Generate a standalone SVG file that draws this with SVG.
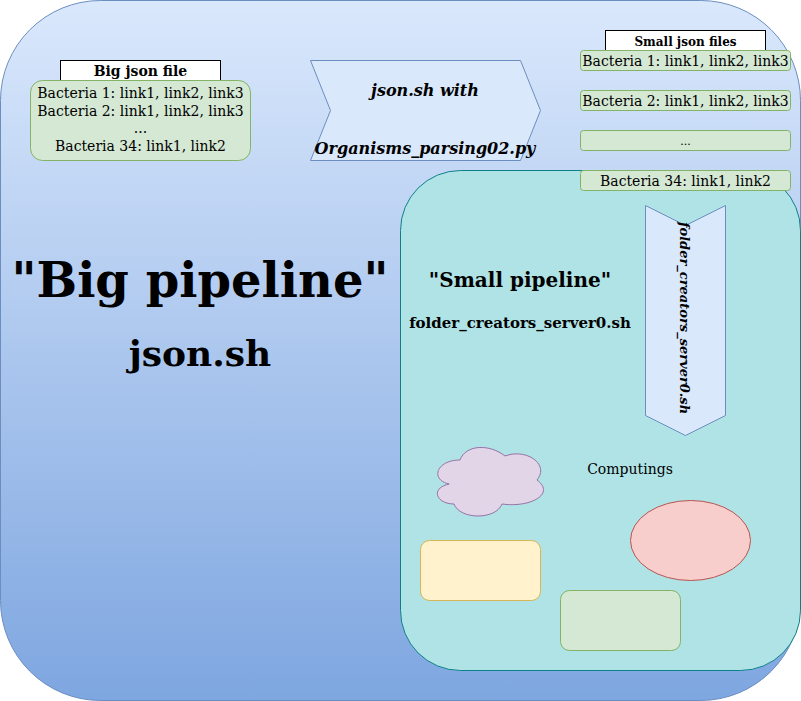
<svg xmlns="http://www.w3.org/2000/svg" width="801" height="701" viewBox="0 0 801 701">
<defs>
<linearGradient id="bg" x1="0" y1="0" x2="0" y2="1">
<stop offset="0" stop-color="#dae8fc"/>
<stop offset="1" stop-color="#7ea6e0"/>
</linearGradient>
<style>
text{font-family:"DejaVu Serif","Liberation Serif",serif;fill:#000;text-anchor:middle}
.green{fill:#d5e8d4;stroke:#82b366;stroke-width:1}
.label{fill:#fff;stroke:#000;stroke-width:1}
.blue{fill:#dae8fc;stroke:#6c8ebf;stroke-width:1}
.t12{font-size:14px}
.b{font-weight:bold}
.bi{font-weight:bold;font-style:italic}
</style>
</defs>
<g id="big-pipeline">
<rect x="0.5" y="0.5" width="800" height="700" rx="100" ry="100" fill="url(#bg)" stroke="#6c8ebf"/>
<text x="200" y="297" class="b" font-size="48">"Big pipeline"</text>
<text x="200" y="366" class="b" font-size="36">json.sh</text>
</g>
<g id="small-pipeline">
<rect x="400.5" y="170.5" width="400" height="500" rx="60" ry="60" fill="#b0e3e6" stroke="#0e8088"/>
<text x="520" y="287" class="b" font-size="20">"Small pipeline"</text>
<text x="520" y="328" class="b" font-size="15">folder_creators_server0.sh</text>
</g>
<g id="big-json">
<rect x="60.5" y="60.5" width="160" height="20" class="label"/>
<text x="140.5" y="76" class="b" font-size="14">Big json file</text>
<rect x="30.5" y="80.5" width="220" height="80" rx="12" ry="12" class="green"/>
<text x="140.5" y="98" class="t12">Bacteria 1: link1, link2, link3</text>
<text x="140.5" y="115.5" class="t12">Bacteria 2: link1, link2, link3</text>
<text x="140.5" y="133" class="t12">...</text>
<text x="140.5" y="150.5" class="t12">Bacteria 34: link1, link2</text>
</g>
<g id="json-step">
<polygon points="310.5,60.5 520.5,60.5 540.5,110.5 520.5,160.5 310.5,160.5 330.5,110.5" class="blue"/>
<text x="425" y="96" class="bi" font-size="16">json.sh with</text>
<text x="425" y="154" class="bi" font-size="16">Organisms_parsing02.py</text>
</g>
<g id="small-json">
<rect x="605.5" y="30.5" width="160" height="20" class="label"/>
<text x="685.5" y="45.5" class="b" font-size="12">Small json files</text>
<rect x="580.5" y="50.5" width="210" height="20" rx="3" ry="3" class="green"/>
<text x="685.5" y="65.5" class="t12">Bacteria 1: link1, link2, link3</text>
<rect x="580.5" y="90.5" width="210" height="20" rx="3" ry="3" class="green"/>
<text x="685.5" y="105.5" class="t12">Bacteria 2: link1, link2, link3</text>
<rect x="580.5" y="130.5" width="210" height="20" rx="3" ry="3" class="green"/>
<text x="685.5" y="145" font-size="11">...</text>
<rect x="580.5" y="170.5" width="210" height="20" rx="3" ry="3" class="green"/>
<text x="685.5" y="185.5" class="t12">Bacteria 34: link1, link2</text>
</g>
<g id="folder-step">
<polygon points="645.5,205.5 685.5,225.5 725.5,205.5 725.5,415.5 685.5,435.5 645.5,415.5" class="blue"/>
<text x="0" y="0" class="bi" font-size="13" transform="translate(680,318) rotate(90)">folder_creators_server0.sh</text>
</g>
<g id="computings">
<text x="630" y="474" font-size="14">Computings</text>
<path d="M 460 460 C 436 460 430 480 449.2 484 C 430 488 436 504 454 504 C 460 520 496 520 502 504 C 530 508 556 494 537 480 C 550 464 526 448 505 456 C 490 444 466 444 460 460 Z" fill="#e1d5e7" stroke="#9673a6"/>
<ellipse cx="690.5" cy="540.5" rx="60" ry="40" fill="#f8cecc" stroke="#b85450"/>
<rect x="420.5" y="540.5" width="120" height="60" rx="9" ry="9" fill="#fff2cc" stroke="#d6b656"/>
<rect x="560.5" y="590.5" width="120" height="60" rx="9" ry="9" class="green"/>
</g>
</svg>
